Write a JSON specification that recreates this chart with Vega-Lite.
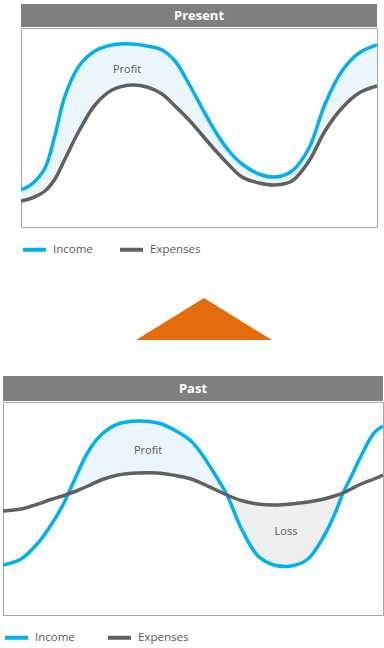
{
  "$schema": "https://vega.github.io/schema/vega-lite/v6.json",
  "padding": {"left": 2, "top": 4, "right": 0, "bottom": 0},
  "autosize": {"type": "pad"},
  "background": "white",
  "config": {
    "view": {"stroke": null},
    "font": "Open Sans",
    "legend": {
      "orient": "bottom",
      "direction": "horizontal",
      "symbolType": "stroke",
      "symbolStrokeWidth": 4,
      "symbolSize": 529,
      "labelFont": "Open Sans",
      "labelFontSize": 11.5,
      "labelColor": "#595959",
      "labelOffset": 5,
      "columnPadding": 19,
      "offset": 8,
      "padding": 0
    }
  },
  "datasets": {
    "present": [
      {"t": 0, "Income": 37, "Expenses": 26},
      {"t": 11, "Income": 43, "Expenses": 29},
      {"t": 24, "Income": 59, "Expenses": 36},
      {"t": 34, "Income": 92, "Expenses": 48},
      {"t": 44, "Income": 131, "Expenses": 68},
      {"t": 58, "Income": 161, "Expenses": 96},
      {"t": 74, "Income": 176, "Expenses": 122},
      {"t": 91, "Income": 182, "Expenses": 137},
      {"t": 111, "Income": 183, "Expenses": 142},
      {"t": 126, "Income": 181, "Expenses": 140},
      {"t": 141, "Income": 177, "Expenses": 133},
      {"t": 154, "Income": 166, "Expenses": 121},
      {"t": 168, "Income": 143, "Expenses": 107},
      {"t": 181, "Income": 119, "Expenses": 92},
      {"t": 194, "Income": 96, "Expenses": 77},
      {"t": 208, "Income": 76, "Expenses": 62},
      {"t": 221, "Income": 63, "Expenses": 50},
      {"t": 238, "Income": 53, "Expenses": 44},
      {"t": 254, "Income": 50, "Expenses": 42},
      {"t": 271, "Income": 56, "Expenses": 46},
      {"t": 288, "Income": 79, "Expenses": 66},
      {"t": 304, "Income": 123, "Expenses": 96},
      {"t": 321, "Income": 156, "Expenses": 119},
      {"t": 338, "Income": 174, "Expenses": 134},
      {"t": 356, "Income": 182, "Expenses": 141}
    ],
    "past": [
      {"t": 0, "Income": 50, "Expenses": 104},
      {"t": 18, "Income": 56, "Expenses": 106},
      {"t": 35, "Income": 72, "Expenses": 111},
      {"t": 48, "Income": 90, "Expenses": 115.5},
      {"t": 61, "Income": 112, "Expenses": 119.5},
      {"t": 65, "Income": 121, "Expenses": 121},
      {"t": 71, "Income": 134, "Expenses": 123},
      {"t": 85, "Income": 163, "Expenses": 129},
      {"t": 98, "Income": 180, "Expenses": 135},
      {"t": 115, "Income": 191, "Expenses": 140},
      {"t": 135, "Income": 194, "Expenses": 142},
      {"t": 155, "Income": 192, "Expenses": 142},
      {"t": 175, "Income": 183, "Expenses": 139},
      {"t": 188, "Income": 174, "Expenses": 136},
      {"t": 198, "Income": 162, "Expenses": 132},
      {"t": 211, "Income": 142, "Expenses": 126},
      {"t": 224, "Income": 120, "Expenses": 120},
      {"t": 238, "Income": 87, "Expenses": 114.5},
      {"t": 255, "Income": 59, "Expenses": 111},
      {"t": 271, "Income": 50, "Expenses": 110},
      {"t": 288, "Income": 49, "Expenses": 111},
      {"t": 305, "Income": 56, "Expenses": 113},
      {"t": 321, "Income": 79, "Expenses": 116},
      {"t": 333, "Income": 104, "Expenses": 119.5},
      {"t": 340, "Income": 122, "Expenses": 122},
      {"t": 348, "Income": 138, "Expenses": 126},
      {"t": 358, "Income": 159, "Expenses": 131},
      {"t": 371, "Income": 182, "Expenses": 136},
      {"t": 380, "Income": 189, "Expenses": 140}
    ]
  },
  "resolve": {"legend": {"color": "independent"}, "scale": {"color": "independent"}},
  "spacing": 0,
  "vconcat": [
    {
      "spacing": 0,
      "resolve": {"legend": {"color": "independent"}},
      "hconcat": [
        {"width": 17, "height": 10, "data": {"values": [{"k": 0}]}, "mark": {"type": "point", "opacity": 0}},
        {
          "spacing": 0,
          "vconcat": [
            {
              "width": 356,
              "height": 23,
              "view": {"fill": "#7f7f7f", "stroke": null},
              "data": {"values": [{"label": "Present"}]},
              "mark": {"type": "text", "color": "white", "fontWeight": "bold", "fontSize": 13, "font": "Open Sans"},
              "encoding": {"text": {"field": "label", "type": "nominal"}}
            },
            {
              "width": 356,
              "height": 199,
              "view": {"stroke": "#a6a6a6", "strokeWidth": 1},
              "data": {"name": "present"},
              "layer": [
                {
                  "mark": {"type": "area", "interpolate": "catmull-rom", "color": "#eaf6fc", "clip": true},
                  "encoding": {
                    "x": {"field": "t", "type": "quantitative", "axis": null, "scale": {"domain": [0, 356], "nice": false, "zero": false}},
                    "y": {"field": "Income", "type": "quantitative", "axis": null, "scale": {"domain": [0, 199], "nice": false}},
                    "y2": {"field": "Expenses"}
                  }
                },
                {
                  "transform": [{"fold": ["Income", "Expenses"], "as": ["series", "value"]}],
                  "mark": {"type": "line", "interpolate": "catmull-rom", "strokeWidth": 3.5, "clip": true},
                  "encoding": {
                    "x": {"field": "t", "type": "quantitative", "axis": null},
                    "y": {"field": "value", "type": "quantitative", "axis": null},
                    "color": {"field": "series", "type": "nominal", "scale": {"domain": ["Income", "Expenses"], "range": ["#00b0f0", "#606060"]}, "legend": {"title": null, "offset": 8}}
                  }
                },
                {
                  "data": {"values": [{"t": 106, "v": 157, "label": "Profit"}]},
                  "mark": {"type": "text", "fontSize": 11, "color": "#595959", "font": "Open Sans"},
                  "encoding": {
                    "x": {"field": "t", "type": "quantitative", "axis": null},
                    "y": {"field": "v", "type": "quantitative", "axis": null},
                    "text": {"field": "label", "type": "nominal"}
                  }
                }
              ]
            }
          ]
        }
      ]
    },
    {
      "spacing": 0,
      "hconcat": [
        {"width": 20, "height": 118, "data": {"values": [{"k": 0}]}, "mark": {"type": "point", "opacity": 0}},
        {
          "width": 362,
          "height": 118,
          "data": {"values": [{"label": "up"}]},
          "mark": {"type": "point", "shape": "M0,-0.279 L1,0.339 L-1,0.339 Z", "size": 18496, "filled": true, "color": "#e46c0a", "opacity": 1}
        }
      ]
    },
    {
      "spacing": 0,
      "vconcat": [
        {
          "width": 380,
          "height": 25,
          "view": {"fill": "#7f7f7f", "stroke": null},
          "data": {"values": [{"label": "Past"}]},
          "mark": {"type": "text", "color": "white", "fontWeight": "bold", "fontSize": 13, "font": "Open Sans"},
          "encoding": {"text": {"field": "label", "type": "nominal"}}
        },
        {
          "width": 380,
          "height": 213,
          "view": {"stroke": "#a6a6a6", "strokeWidth": 1},
          "data": {"name": "past"},
          "layer": [
            {
              "transform": [{"filter": "datum.t >= 65 && datum.t <= 224"}],
              "mark": {"type": "area", "interpolate": "catmull-rom", "color": "#eaf6fc", "clip": true},
              "encoding": {
                "x": {"field": "t", "type": "quantitative", "axis": null, "scale": {"domain": [0, 380], "nice": false, "zero": false}},
                "y": {"field": "Income", "type": "quantitative", "axis": null, "scale": {"domain": [0, 213], "nice": false}},
                "y2": {"field": "Expenses"}
              }
            },
            {
              "transform": [{"filter": "datum.t >= 224 && datum.t <= 340"}],
              "mark": {"type": "area", "interpolate": "catmull-rom", "color": "#efefef", "clip": true},
              "encoding": {
                "x": {"field": "t", "type": "quantitative", "axis": null},
                "y": {"field": "Income", "type": "quantitative", "axis": null},
                "y2": {"field": "Expenses"}
              }
            },
            {
              "transform": [{"fold": ["Income", "Expenses"], "as": ["series", "value"]}],
              "mark": {"type": "line", "interpolate": "catmull-rom", "strokeWidth": 3.5, "clip": true},
              "encoding": {
                "x": {"field": "t", "type": "quantitative", "axis": null},
                "y": {"field": "value", "type": "quantitative", "axis": null},
                "color": {"field": "series", "type": "nominal", "scale": {"domain": ["Income", "Expenses"], "range": ["#00b0f0", "#606060"]}, "legend": {"title": null, "offset": 8, "columnPadding": 25}}
              }
            },
            {
              "data": {"values": [{"t": 145, "v": 164, "label": "Profit"}, {"t": 283, "v": 83, "label": "Loss"}]},
              "mark": {"type": "text", "fontSize": 11, "color": "#595959", "font": "Open Sans"},
              "encoding": {
                "x": {"field": "t", "type": "quantitative", "axis": null},
                "y": {"field": "v", "type": "quantitative", "axis": null},
                "text": {"field": "label", "type": "nominal"}
              }
            }
          ]
        }
      ]
    }
  ]
}
